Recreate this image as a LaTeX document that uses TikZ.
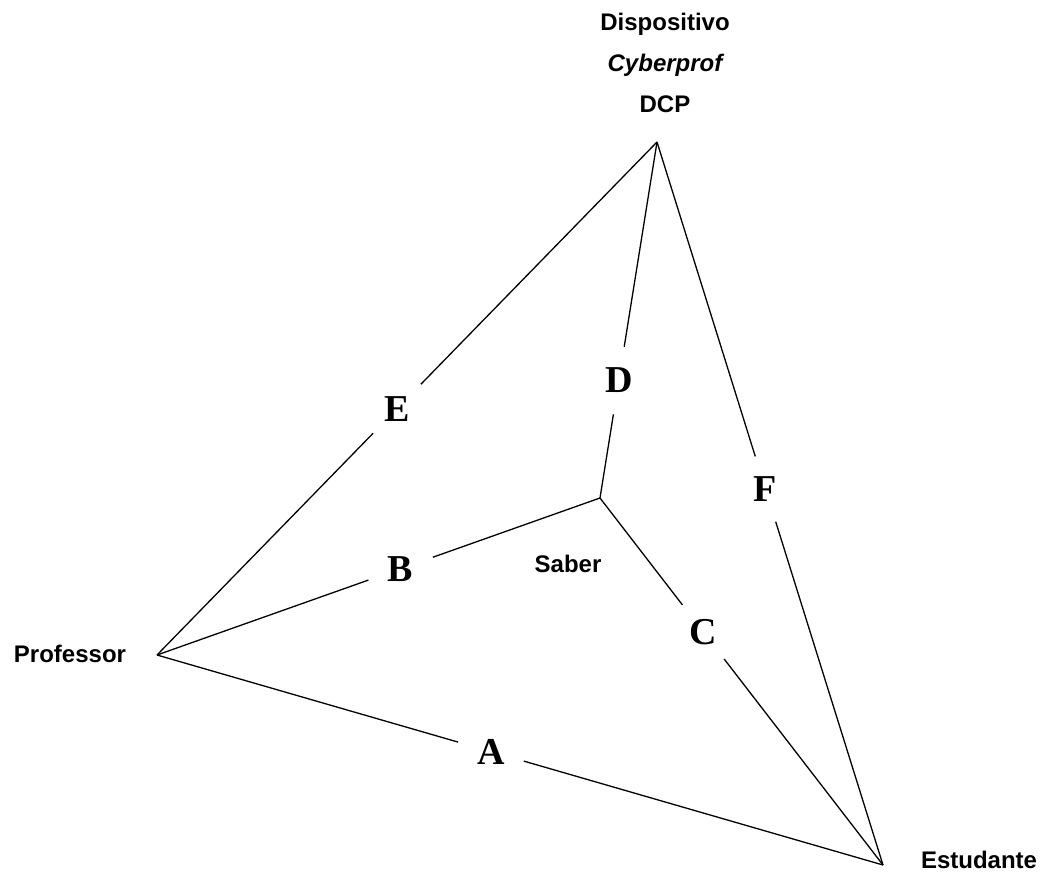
\documentclass[tikz,border=0pt]{standalone}
\usepackage{fontspec}
\setmainfont{Liberation Serif}
\setsansfont{Liberation Sans}

\begin{document}
\begin{tikzpicture}[x=1pt,y=-1pt,
    edgeletter/.style={circle,minimum size=68pt,inner sep=0pt,font=\fontsize{38}{38}\selectfont\bfseries},
    vertexname/.style={anchor=base,inner sep=0pt,font=\fontsize{24}{28}\selectfont\sffamily\bfseries}]
            \useasboundingbox (0,0) rectangle (1045,872);
            % vertices
            \coordinate (dcp) at (657,142);
            \coordinate (prof) at (157,655);
            \coordinate (est) at (883,865);
            \coordinate (saber) at (600,498);
            % names
            \node[vertexname] (disp) at (665,31) {Dispositivo};
            \node[vertexname] (cyber) at (665,72) {\itshape Cyberprof};
            \node[vertexname] (dcpname) at (665,113) {DCP};
            \node[vertexname] (profname) at (70,662) {Professor};
            \node[vertexname] (estname) at (979,868) {Estudante};
            \node[vertexname] (sabername) at (568,572) {Saber};
            % letters on the edges
            \path (prof) -- (est) node[edgeletter,pos=0.46] (A) {A};
            \path (prof) -- (saber) node[edgeletter,pos=0.55] (B) {B};
            \path (saber) -- (est) node[edgeletter,pos=0.365] (C) {C};
            \path (dcp) -- (saber) node[edgeletter,pos=0.67] (D) {D};
            \path (prof) -- (dcp) node[edgeletter,pos=0.48] (E) {E};
            \path (dcp) -- (est) node[edgeletter,pos=0.48] (F) {F};
            % edges
            \draw[line width=1.3pt] (prof) -- (A) -- (est);
            \draw[line width=1.3pt] (prof) -- (B) -- (saber);
            \draw[line width=1.3pt] (saber) -- (C) -- (est);
            \draw[line width=1.3pt] (dcp) -- (D) -- (saber);
            \draw[line width=1.3pt] (prof) -- (E) -- (dcp);
            \draw[line width=1.3pt] (dcp) -- (F) -- (est);
        \end{tikzpicture}
\end{document}
